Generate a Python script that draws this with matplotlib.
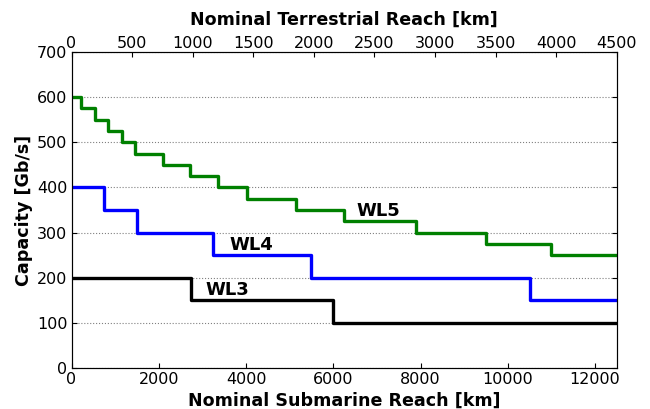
import numpy as np
import matplotlib.pyplot as plt

# step edges (submarine reach, km) and capacity levels (Gb/s)
wl5_x = [0, 210, 540, 830, 1150, 1455, 2100, 2715, 3365, 4015, 5140, 6250, 7900, 9500, 11000, 12500]
wl5_y = [600, 575, 550, 525, 500, 475, 450, 425, 400, 375, 350, 325, 300, 275, 250, 250]
wl4_x = [0, 750, 1500, 3235, 5500, 10500, 12500]
wl4_y = [400, 350, 300, 250, 200, 150, 150]
wl3_x = [0, 2750, 6000, 12500]
wl3_y = [200, 150, 100, 100]

terr_ticks = [0, 500, 1000, 1500, 2000, 2500, 3000, 3500, 4000, 4500]

fig = plt.figure(figsize=(6.5, 4.09), dpi=100)
ax = fig.add_axes([0.11, 0.10, 0.839, 0.773])

ax.step(wl5_x, wl5_y, where='post', color='green', lw=2.4)
ax.step(wl4_x, wl4_y, where='post', color='blue', lw=2.4)
ax.step(wl3_x, wl3_y, where='post', color='black', lw=2.4)

ax.text(6530, 347, 'WL5', fontsize=13, fontweight='bold', va='center')
ax.text(3630, 272, 'WL4', fontsize=13, fontweight='bold', va='center')
ax.text(3060, 173, 'WL3', fontsize=13, fontweight='bold', va='center')

ax.set_xlim(0, 12500)
ax.set_ylim(0, 700)
ax.set_xticks(np.arange(0, 12001, 2000))
ax.set_yticks(np.arange(0, 701, 100))
ax.yaxis.grid(True, linestyle=':', color='gray', lw=0.8)
ax.tick_params(direction='in', labelsize=11.5, right=True, pad=3)
for s in ax.spines.values():
    s.set_color('#333333')
ax.set_xlabel('Nominal Submarine Reach [km]', fontsize=12.6, fontweight='bold', labelpad=3)
ax.set_ylabel('Capacity [Gb/s]', fontsize=12.6, fontweight='bold', labelpad=3)

ax2 = ax.twiny()
ax2.set_xlim(0, 4500)
ax2.set_xticks(terr_ticks)
ax2.tick_params(direction='in', labelsize=11.5, pad=0.5)
ax2.set_xlabel('Nominal Terrestrial Reach [km]', fontsize=12.6, fontweight='bold', labelpad=8)

fig.savefig('out.png', dpi=100)
